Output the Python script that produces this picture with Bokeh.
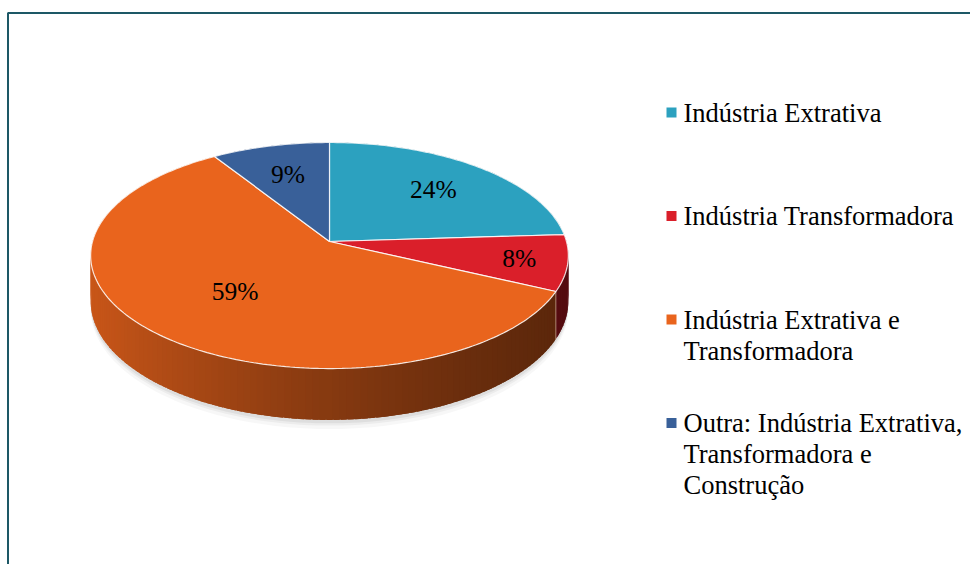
import numpy as np
from bokeh.plotting import figure
from bokeh.models import Range1d
from bokeh.core.properties import value
from bokeh.embed import file_html
from bokeh.resources import INLINE

# ---- data ----
categories = ["Indústria Extrativa", "Indústria Transformadora",
              "Indústria Extrativa e Transformadora",
              "Outra: Indústria Extrativa, Transformadora e Construção"]
legend_lines = [["Indústria Extrativa"],
                ["Indústria Transformadora"],
                ["Indústria Extrativa e", "Transformadora"],
                ["Outra: Indústria Extrativa,", "Transformadora e", "Construção"]]
shares = [24, 8, 59, 9]
colors = ["#2CA1BF", "#DA1F2A", "#E9641D", "#396099"]

# label placement (fraction of radius along each slice's mid-angle)
LABEL_R = [0.68, 0.8, 0.57, 0.68]

# ---- figure in pixel coordinates ----
W, H = 970, 564
p = figure(width=W, height=H, x_range=Range1d(0, W), y_range=Range1d(H, 0),
           output_backend="svg", toolbar_location=None, min_border=0)
p.axis.visible = False
p.grid.visible = False
p.outline_line_color = None
p.background_fill_color = "white"
p.border_fill_color = "white"

FONT = value("Liberation Serif")

# pie geometry (perspective-projected disk)
CX, CY = 329, 241
A, B, K, DEPTH = 237, 111.3, 0.124, 45


def project(theta_deg, r=1.0, drop=0.0):
    t = np.radians(theta_deg)
    u = r * np.cos(t)
    v = -r * np.sin(t)
    f = 1.0 / (1.0 - K * v)
    return CX + A * u * f, CY + (B * v + drop) * f, v


def hex_rgb(h):
    h = h.lstrip("#")
    return tuple(int(h[i:i + 2], 16) for i in (0, 2, 4))


def shade(h, fac):
    r, g, b = hex_rgb(h)
    return "#%02x%02x%02x" % (int(r * fac), int(g * fac), int(b * fac))


total = float(sum(shares))
starts, ends = [], []
a0 = 90.0
for s in shares:
    a1 = a0 - 360.0 * s / total
    starts.append(a0)
    ends.append(a1)
    a0 = a1

# ---- soft shadow under the pie ----
arc = np.linspace(-200, 20, 120)
for off, alpha in [(8, 0.03), (5, 0.045), (3, 0.06)]:
    xs_t, ys_t, _ = project(arc, 1.0, DEPTH + off)
    xs = list(xs_t) + [CX]
    ys = list(ys_t) + [CY + DEPTH]
    p.patch(xs, ys, fill_color="#000000", fill_alpha=alpha, line_color=None)

# ---- side strips (overlapping, no outlines, to avoid seams) ----
strips = []
left_x, right_x = CX - A, CX + A
STEP, OVL = 1.5, 0.6
for i, (s0, s1) in enumerate(zip(starts, ends)):
    n = max(2, int(abs(s0 - s1) / STEP) + 1)
    angs = np.linspace(s0, s1, n)
    for j, (a, b) in enumerate(zip(angs[:-1], angs[1:])):
        a_ext = a + (OVL if j > 0 else 0)
        b_ext = b - (OVL if j < n - 2 else 0)
        xa, ya, va = project(a_ext)
        xb, yb, vb = project(b_ext)
        xa2, ya2, _ = project(a_ext, 1.0, DEPTH)
        xb2, yb2, _ = project(b_ext, 1.0, DEPTH)
        xm = (xa + xb) / 2
        t = min(1, max(0, (xm - left_x) / (right_x - left_x)))
        fac = 0.86 * (0.45 ** t)
        col = shade(colors[i], fac)
        strips.append(((va + vb) / 2, [xa, xb, xb2, xa2], [ya, yb, yb2, ya2], col))
strips.sort(key=lambda z: z[0])
p.patches([z[1] for z in strips], [z[2] for z in strips],
          fill_color=[z[3] for z in strips], line_color=None)

# light edges on the side at slice boundaries (front half)
for a in ends:
    xa, ya, va = project(a)
    if va > 0:
        xb, yb, _ = project(a, 1.0, DEPTH)
        p.line([xa, xb], [ya, yb], line_color="#f2d0c0", line_alpha=0.5, line_width=1)

# ---- top faces ----
txs, tys = [], []
for s0, s1 in zip(starts, ends):
    n = max(3, int(abs(s0 - s1) / 1.0) + 1)
    angs = np.linspace(s0, s1, n)
    x, y, _ = project(angs)
    txs.append([CX] + list(x))
    tys.append([CY] + list(y))
p.patches(txs, tys, fill_color=colors, line_color="white", line_alpha=0.85,
          line_width=1.2)

# ---- percentage labels ----
lx, ly, lt = [], [], []
for s, s0, s1, rr in zip(shares, starts, ends, LABEL_R):
    x, y, _ = project((s0 + s1) / 2, rr)
    lx.append(float(x))
    ly.append(float(y))
    lt.append("%d%%" % round(100 * s / total))
p.text(lx, ly, text=lt, text_font=FONT, text_font_size="25.5px",
       text_align="center", text_baseline="middle", text_color="black")

# ---- legend ----
LEG_X, LEG_Y0, LEG_STEP, LINE_H = 671, 112, 103.5, 31
sq_x, sq_y, tx, ty, tt = [], [], [], [], []
for i, lines in enumerate(legend_lines):
    yc = LEG_Y0 + i * LEG_STEP
    sq_x.append(LEG_X)
    sq_y.append(yc)
    for j, line in enumerate(lines):
        tx.append(LEG_X + 12)
        ty.append(yc + j * LINE_H)
        tt.append(line)
p.rect(sq_x, sq_y, width=10, height=10, fill_color=colors, line_color=None)
p.text(tx, ty, text=tt, text_font=FONT, text_font_size="26.5px",
       text_align="left", text_baseline="middle", text_color="black")

# ---- frame border (top and left) ----
p.line([7.5, 7.5, W], [H, 12.5, 12.5], line_color="#1d5866", line_width=2)

open("out.html", "w").write(file_html(p, INLINE))
